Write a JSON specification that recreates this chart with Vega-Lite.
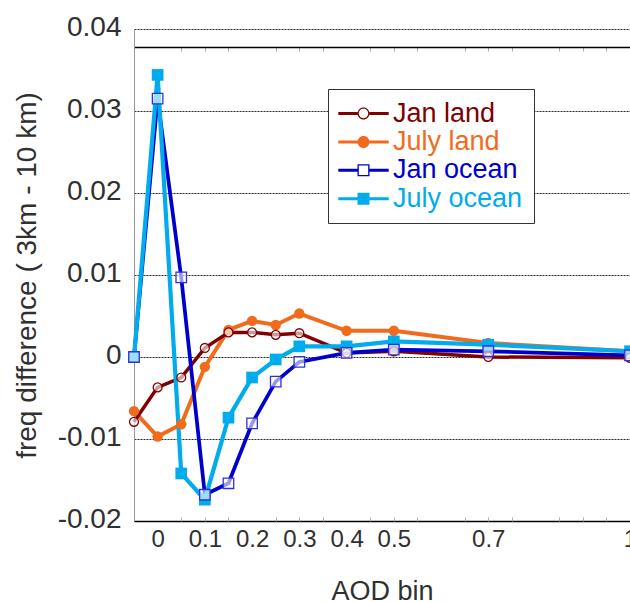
{
 "$schema": "https://vega.github.io/schema/vega-lite/v6.json",
 "width": 496,
 "height": 492,
 "autosize": {"type": "none"},
 "padding": {"left": 134, "top": 29, "right": 0, "bottom": 81},
 "background": "white",
 "config": {"font": "Liberation Sans", "view": {"stroke": null}},
 "data": {"values": [
  {"s": "July land", "x": -0.05, "y": -0.0066},
  {"s": "July land", "x": 0, "y": -0.0097},
  {"s": "July land", "x": 0.05, "y": -0.0082},
  {"s": "July land", "x": 0.1, "y": -0.0012},
  {"s": "July land", "x": 0.15, "y": 0.0033},
  {"s": "July land", "x": 0.2, "y": 0.0044},
  {"s": "July land", "x": 0.25, "y": 0.0039},
  {"s": "July land", "x": 0.3, "y": 0.0053},
  {"s": "July land", "x": 0.4, "y": 0.0032},
  {"s": "July land", "x": 0.5, "y": 0.0032},
  {"s": "July land", "x": 0.7, "y": 0.0017},
  {"s": "July land", "x": 1.0, "y": 0.0007},
  {"s": "Jan land", "x": -0.05, "y": -0.0079},
  {"s": "Jan land", "x": 0, "y": -0.0037},
  {"s": "Jan land", "x": 0.05, "y": -0.0025},
  {"s": "Jan land", "x": 0.1, "y": 0.0011},
  {"s": "Jan land", "x": 0.15, "y": 0.0030},
  {"s": "Jan land", "x": 0.2, "y": 0.0030},
  {"s": "Jan land", "x": 0.25, "y": 0.0027},
  {"s": "Jan land", "x": 0.3, "y": 0.0029},
  {"s": "Jan land", "x": 0.4, "y": 0.0005},
  {"s": "Jan land", "x": 0.5, "y": 0.0007},
  {"s": "Jan land", "x": 0.7, "y": 0.0000},
  {"s": "Jan land", "x": 1.0, "y": -0.0001},
  {"s": "Jan ocean", "x": -0.05, "y": 0.0},
  {"s": "Jan ocean", "x": 0, "y": 0.0315},
  {"s": "Jan ocean", "x": 0.05, "y": 0.0097},
  {"s": "Jan ocean", "x": 0.1, "y": -0.0168},
  {"s": "Jan ocean", "x": 0.15, "y": -0.0154},
  {"s": "Jan ocean", "x": 0.2, "y": -0.0081},
  {"s": "Jan ocean", "x": 0.25, "y": -0.0030},
  {"s": "Jan ocean", "x": 0.3, "y": -0.0006},
  {"s": "Jan ocean", "x": 0.4, "y": 0.0005},
  {"s": "Jan ocean", "x": 0.5, "y": 0.0009},
  {"s": "Jan ocean", "x": 0.7, "y": 0.0007},
  {"s": "Jan ocean", "x": 1.0, "y": 0.0002},
  {"s": "July ocean", "x": -0.05, "y": 0.0},
  {"s": "July ocean", "x": 0, "y": 0.0344},
  {"s": "July ocean", "x": 0.05, "y": -0.0142},
  {"s": "July ocean", "x": 0.1, "y": -0.0174},
  {"s": "July ocean", "x": 0.15, "y": -0.0074},
  {"s": "July ocean", "x": 0.2, "y": -0.0025},
  {"s": "July ocean", "x": 0.25, "y": -0.0003},
  {"s": "July ocean", "x": 0.3, "y": 0.0013},
  {"s": "July ocean", "x": 0.4, "y": 0.0013},
  {"s": "July ocean", "x": 0.5, "y": 0.0019},
  {"s": "July ocean", "x": 0.7, "y": 0.0015},
  {"s": "July ocean", "x": 1.0, "y": 0.0007}
 ]},
 "resolve": {"axis": {"x": "independent", "y": "independent"}},
 "layer": [
  {
   "mark": {"type": "line"},
   "encoding": {
    "x": {"field": "x", "type": "quantitative",
     "scale": {"domain": [-0.05, 1], "nice": false, "zero": false},
     "axis": {"orient": "bottom", "values": [0, 0.1, 0.2, 0.3, 0.4, 0.5, 0.7, 1], "format": "~g",
      "ticks": false, "grid": false, "domainColor": "#000000", "domainWidth": 1.5,
      "labelFontSize": 24, "labelColor": "#303030", "labelPadding": 6, "labelFlush": false, "labelOverlap": false, "labelBound": false,
      "title": "AOD bin", "titleFontSize": 27, "titleFontWeight": "normal", "titleColor": "#303030",
      "titleX": 248, "titleY": 78, "titleBaseline": "alphabetic", "titleAlign": "center"}},
    "y": {"field": "y", "type": "quantitative",
     "scale": {"domain": [-0.02, 0.04], "nice": false, "zero": false},
     "axis": {"orient": "left", "values": [-0.02, -0.01, 0, 0.01, 0.02, 0.03, 0.04], "format": "~g",
      "labelExpr": "replace(datum.label, '\u2212', '-')",
      "ticks": false, "domainColor": "#999999", "domainWidth": 1,
      "grid": true, "gridColor": "#000000", "gridDash": [2, 1], "gridWidth": 1, "gridOpacity": 0.85,
      "labelFontSize": 28, "labelColor": "#303030", "labelPadding": 13, "labelOffset": -2, "labelFlush": false, "labelOverlap": false, "labelBound": false,
      "title": "freq difference ( 3km - 10 km)", "titleFontSize": 28, "titleFontWeight": "normal", "titleColor": "#303030",
      "titleX": -99, "titleY": 246, "titleBaseline": "alphabetic", "titleAlign": "center"}},
    "color": {"field": "s", "type": "nominal",
     "scale": {"domain": ["Jan land", "July land", "Jan ocean", "July ocean"], "range": ["#7f0000", "#f26b1c", "#0000cd", "#00acec"]},
     "legend": {"title": null, "orient": "none", "legendX": 194, "legendY": 60, "padding": 11,
      "strokeColor": "#333333", "fillColor": "#ffffff",
      "labelFontSize": 27, "labelFont": "Liberation Sans", "labelLimit": 400,
      "labelColor": {"expr": "scale('color', datum.value)"},
      "symbolSize": 144,
      "symbolType": {"expr": "datum.value === 'Jan land' ? 'M-4.2,-0.25L-1,-0.25L-1,0.25L-4.2,0.25Z M1,-0.25L4.2,-0.25L4.2,0.25L1,0.25Z M1,0C1,0.552 0.552,1 0,1C-0.552,1 -1,0.552 -1,0C-1,-0.552 -0.552,-1 0,-1C0.552,-1 1,-0.552 1,0Z M0.78,0C0.78,-0.43 0.43,-0.78 0,-0.78C-0.43,-0.78 -0.78,-0.43 -0.78,0C-0.78,0.43 -0.43,0.78 0,0.78C0.43,0.78 0.78,0.43 0.78,0Z' : datum.value === 'July land' ? 'M-4.2,-0.25L4.2,-0.25L4.2,0.25L-4.2,0.25Z M1,0C1,0.552 0.552,1 0,1C-0.552,1 -1,0.552 -1,0C-1,-0.552 -0.552,-1 0,-1C0.552,-1 1,-0.552 1,0Z' : datum.value === 'Jan ocean' ? 'M-4.2,-0.25L-1,-0.25L-1,0.25L-4.2,0.25Z M1,-0.25L4.2,-0.25L4.2,0.25L1,0.25Z M-1,-1L1,-1L1,1L-1,1Z M-0.78,-0.78L-0.78,0.78L0.78,0.78L0.78,-0.78Z' : 'M-4.2,-0.25L4.2,-0.25L4.2,0.25L-4.2,0.25Z M-1,-1L1,-1L1,1L-1,1Z'"},
      "symbolFillColor": {"expr": "scale('color', datum.value)"},
      "symbolStrokeWidth": 0,
      "symbolOffset": 11, "labelOffset": 16, "rowPadding": 0.4}},
    "strokeWidth": {"field": "s", "type": "nominal",
     "scale": {"domain": ["Jan land", "Jan ocean", "July land", "July ocean"], "range": [3.5, 4.2, 3.8, 3.5]},
     "legend": null}
   }
  },
  {
   "transform": [{"filter": "datum.s === 'July land' || datum.s === 'July ocean'"}],
   "mark": {"type": "point", "filled": true, "opacity": 1, "strokeWidth": 0},
   "encoding": {
    "x": {"field": "x", "type": "quantitative",
     "scale": {"domain": [-0.05, 1], "nice": false, "zero": false},
     "axis": {"orient": "top", "offset": -18, "values": [0.05, 0.1, 0.15, 0.25, 0.3, 0.35, 0.45, 0.5, 0.55, 0.65, 0.7, 0.75, 0.85, 0.9, 0.95],
      "labels": false, "grid": false, "ticks": true, "tickSize": -4, "tickColor": "#aaaaaa", "tickWidth": 1,
      "domainColor": "#000000", "domainWidth": 1.5, "title": null}},
    "y": {"field": "y", "type": "quantitative", "scale": {"domain": [-0.02, 0.04], "nice": false, "zero": false}, "axis": null},
    "shape": {"condition": {"test": "datum.s === 'July ocean'", "value": "square"}, "value": "circle"},
    "fill": {"condition": {"test": "datum.s === 'July ocean'", "value": "#00acec"}, "value": "#f26b1c"},
    "size": {"condition": {"test": "datum.s === 'July ocean'", "value": 137}, "value": 108}
   }
  },
  {
   "transform": [{"filter": "datum.s === 'Jan land' || datum.s === 'Jan ocean'"}],
   "mark": {"type": "point", "filled": false, "fill": "#ffffff", "fillOpacity": 0.6, "opacity": 1, "strokeWidth": 1.3},
   "encoding": {
    "x": {"field": "x", "type": "quantitative",
     "scale": {"domain": [-0.05, 1], "nice": false, "zero": false},
     "axis": {"orient": "bottom", "values": [0.05, 0.1, 0.15, 0.25, 0.3, 0.35, 0.45, 0.5, 0.55, 0.65, 0.7, 0.75, 0.85, 0.9, 0.95],
      "labels": false, "grid": false, "ticks": true, "tickSize": -4, "tickColor": "#aaaaaa", "tickWidth": 1,
      "domain": false, "title": null}},
    "y": {"field": "y", "type": "quantitative", "scale": {"domain": [-0.02, 0.04], "nice": false, "zero": false}, "axis": null},
    "shape": {"condition": {"test": "datum.s === 'Jan ocean'", "value": "square"}, "value": "circle"},
    "stroke": {"condition": {"test": "datum.s === 'Jan ocean'", "value": "#3030d8"}, "value": "#7f0000"},
    "size": {"condition": {"test": "datum.s === 'Jan ocean'", "value": 110}, "value": 80}
   }
  }
 ]
}
